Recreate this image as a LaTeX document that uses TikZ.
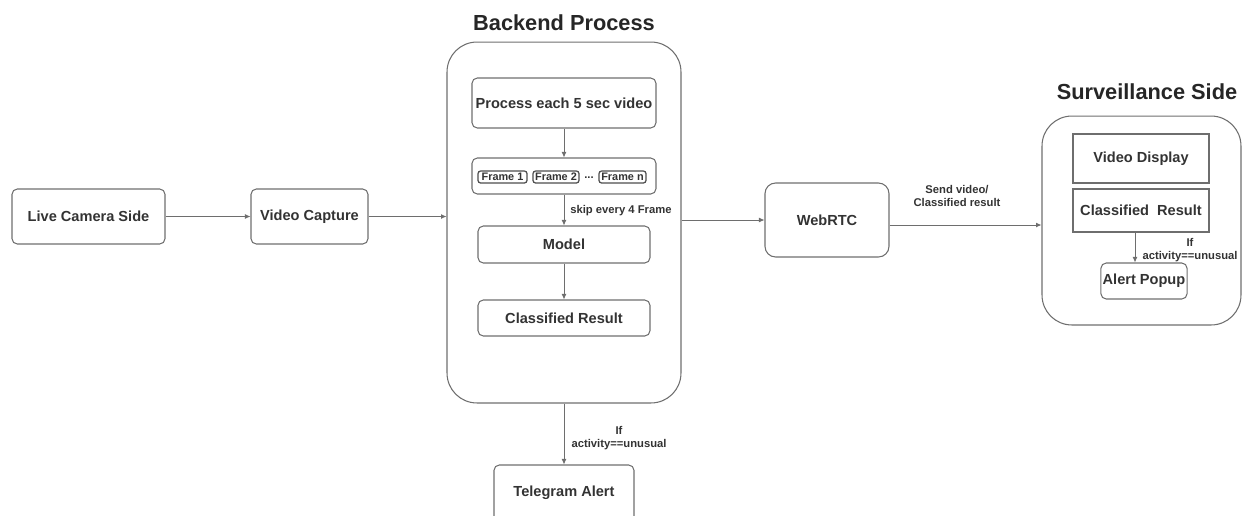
\documentclass[tikz,border=0pt]{standalone}
\usepackage{fontspec}
\setmainfont{Liberation Sans}
\usepackage{xcolor}
\definecolor{camline}{HTML}{6E6E6E}
\definecolor{camtext}{HTML}{333333}
\usepackage{tikz}
\usetikzlibrary{arrows.meta,positioning,calc}
\tikzset{
  camplain/.style={draw=camline,rounded corners=3pt,align=center,text=camtext,font=\fontsize{8.3}{10}\selectfont\bfseries,inner sep=1pt,line width=0.6pt},
  camrect/.style={camplain,sharp corners},
  camgroup/.style={draw=camline,rounded corners=17pt,line width=0.6pt,inner sep=0pt},
  camframe/.style={draw=camline!70!black,rounded corners=1.5pt,line width=0.7pt,text=camtext,font=\fontsize{6.2}{7}\selectfont\bfseries,inner sep=0.5pt,minimum height=0.24cm},
  camflow/.style={-{Latex[length=1.1mm,width=1mm]},draw=camline,line width=0.5pt},
  camlabel/.style={font=\fontsize{6.4}{7.4}\selectfont\bfseries,text=camtext,align=center,inner sep=0pt},
  camtitle/.style={font=\fontsize{12.4}{14}\selectfont\bfseries,text=black!85,inner sep=0pt},
}

\begin{document}
\begin{tikzpicture}[x=0.02cm,y=-0.02cm]
\useasboundingbox (0,0) rectangle (1242,515);
\node[camplain,minimum width=3.06cm,minimum height=1.1cm] (live) at (88.5,216.5) {Live Camera Side};
\node[camplain,minimum width=2.34cm,minimum height=1.1cm] (vcap) at (309.5,216.5) {Video Capture};
\draw[camflow] (live) -- (vcap);
\node[camgroup,minimum width=4.68cm,minimum height=7.22cm] (backend) at (564,222.5) {};
\node[camtitle] (bktitle) at (564,23) {Backend Process};
\draw[camflow] (vcap) -- (vcap -| backend.west);
\node[camplain,minimum width=3.68cm,minimum height=1cm] (proc) at (564,103) {Process each 5 sec video};
\node[camplain,minimum width=3.68cm,minimum height=0.72cm] (frames) at (564,176) {};
\node[camframe,minimum width=0.98cm] (fone) at (502.5,177) {Frame 1};
\node[camframe,minimum width=0.92cm] (ftwo) at (556,177) {Frame 2};
\node[camlabel,text=camtext] (fdots) at (589,178) {...};
\node[camframe,minimum width=0.94cm] (fn) at (622.5,177) {Frame n};
\draw[camflow] (proc) -- (frames);
\node[camplain,minimum width=3.44cm,minimum height=0.74cm] (model) at (564,244.5) {Model};
\draw[camflow] (frames) -- (model);
\node[camlabel,anchor=west] (skip) at (570,211) {skip every 4 Frame};
\node[camplain,minimum width=3.44cm,minimum height=0.72cm] (bres) at (564,318) {Classified Result};
\draw[camflow] (model) -- (bres);
\node[camplain,minimum width=2.8cm,minimum height=1.12cm] (tele) at (564,493) {Telegram Alert};
\draw[camflow] (backend) -- (tele);
\node[camlabel] (tlabel) at (619,438) {If\\activity==unusual};
\node[camplain,rounded corners=6pt,minimum width=2.48cm,minimum height=1.48cm] (webrtc) at (827,220) {WebRTC};
\draw[camflow] (backend.east |- webrtc) -- (webrtc);
\node[camgroup,minimum width=3.98cm,minimum height=4.18cm] (surv) at (1141.5,220.5) {};
\node[camtitle] (svtitle) at (1147,92) {Surveillance Side};
\draw[camflow] ([yshift=-0.1cm]webrtc.east) -- ([yshift=-0.1cm]webrtc.east -| surv.west);
\node[camlabel] (sendlabel) at (957,196) {Send video/\\Classified result};
\node[camrect,minimum width=2.72cm,minimum height=0.98cm] (vdisp) at (1141,158.5) {Video Display};
\node[camrect,minimum width=2.72cm,minimum height=0.86cm] (sres) at (1141,210.5) {Classified~ Result};
\node[camplain,minimum width=1.72cm,minimum height=0.72cm] (popup) at (1144,281) {Alert Popup};
\draw[camflow] ([xshift=-0.12cm]sres.south) -- ([xshift=-0.12cm]sres.south |- popup.north);
\node[camlabel] (plabel) at (1190,250) {If\\activity==unusual};
\end{tikzpicture}
\end{document}
